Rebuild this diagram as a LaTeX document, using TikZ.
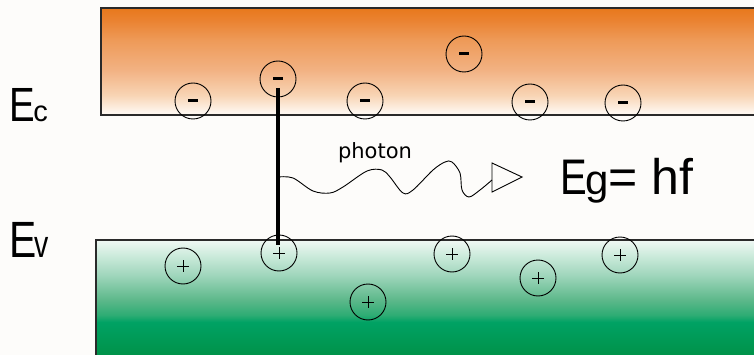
\documentclass[tikz,border=0pt]{standalone}
\usepackage{fontspec}
\setmainfont{Liberation Sans}
\newfontfamily\photonfont{DejaVu Sans}
\usetikzlibrary{calc}

% band shadings: the path's bounding box maps onto 25bp..75bp
\definecolor{ob0}{HTML}{FEF6EE}
\definecolor{ob1}{HTML}{F8D4B4}
\definecolor{ob2}{HTML}{F2B283}
\definecolor{ob3}{HTML}{EE9A58}
\definecolor{ob4}{HTML}{EA8230}
\definecolor{ob5}{HTML}{E8781C}
\pgfdeclareverticalshading{condband}{100bp}{%
  color(0bp)=(ob0); color(26.4bp)=(ob0); color(34.3bp)=(ob1); color(46bp)=(ob2);
  color(60bp)=(ob3); color(69.4bp)=(ob4); color(75bp)=(ob5); color(100bp)=(ob5)}
\definecolor{gb0}{HTML}{009249}
\definecolor{gb1}{HTML}{00A264}
\definecolor{gb2}{HTML}{2EAC74}
\definecolor{gb3}{HTML}{5CB88A}
\definecolor{gb4}{HTML}{A0D6BC}
\definecolor{gb5}{HTML}{CDEBDC}
\definecolor{gb6}{HTML}{F0F8F4}
\pgfdeclareverticalshading{valband}{100bp}{%
  color(0bp)=(gb0); color(25bp)=(gb0); color(39.3bp)=(gb1); color(42.4bp)=(gb2);
  color(48.9bp)=(gb3); color(59.8bp)=(gb4); color(68.5bp)=(gb5); color(75bp)=(gb6);
  color(100bp)=(gb6)}
\definecolor{paper}{HTML}{FDFCFA}
\definecolor{edge}{HTML}{2A2A2A}

\tikzset{
  bandedge/.style={draw=edge, line width=1.4pt},
  carrier/.style={circle, draw=black, line width=0.9pt, minimum size=36pt, inner sep=0pt},
  electron/.style={carrier},
  hole/.style={carrier, path picture={
      \draw[line width=0.9pt] ($(path picture bounding box.center)+(-6,0)$) -- ++(12,0);
      \draw[line width=0.9pt] ($(path picture bounding box.center)+(0,-6)$) -- ++(0,12);}},
  transition/.style={draw=black, line width=3.2pt},
  wave/.style={draw=black, line width=0.9pt},
  bigtext/.style={inner sep=0pt, anchor=base west, text=black}
}
\newcommand{\minusbar}{\rule{10pt}{3pt}}

\begin{document}
\begin{tikzpicture}[x=1pt, y=-1pt]
  \useasboundingbox (0,0) rectangle (754,355);
  \clip (0,0) rectangle (754,355);
  \fill[paper] (0,0) rectangle (754,355);

  % conduction band
  \shade[shading=condband] (101,8) rectangle (760,115);
  \draw[bandedge] (760,8) -- (101,8) -- (101,115) -- (760,115);

  % valence band
  \shade[shading=valband] (96,240) rectangle (760,355);
  \draw[bandedge] (760,240) -- (96,240) -- (96,360);

  % electrons
  \node[electron] (e1) at (193,101) {\minusbar};
  \node[electron] (e2) at (278,79)  {\minusbar};
  \node[electron] (e3) at (365,101) {\minusbar};
  \node[electron] (e4) at (464,54)  {\minusbar};
  \node[electron] (e5) at (530,102) {\minusbar};
  \node[electron] (e6) at (623,103) {\minusbar};

  % holes
  \node[hole] (h1) at (183,266) {};
  \node[hole] (h2) at (279,253) {};
  \node[hole] (h3) at (368,302) {};
  \node[hole] (h4) at (452,254) {};
  \node[hole] (h5) at (538,278) {};
  \node[hole] (h6) at (620,255) {};

  % recombination
  \draw[transition] ([yshift=-9pt]e2.center) -- ([yshift=8pt]e2.center |- h2.center);

  % emitted photon
  \coordinate (ph0) at (278,177);
  \draw[wave] plot[smooth, tension=0.55] coordinates {
    (278,177) (293,178) (313,191) (330,193) (343,187) (367,171) (382,170)
    (390,177) (403,193) (413,190) (433,170) (445,162) (452,162) (460,173)
    (462,190) (469,197) (480,190) (492,180)};
  \coordinate (tipA) at (492,163);
  \coordinate (tipB) at (492,192);
  \coordinate (tipC) at (522,177);
  \draw[wave, line join=miter] (tipA) -- (tipB) -- (tipC) -- cycle;
  \node[inner sep=0pt] (phl) at (375,153) {\photonfont\fontsize{21}{21}\selectfont photon};

  % labels
  \node[bigtext] (lc) at (9,122)
    {\scalebox{0.8}[1]{\fontsize{48}{48}\selectfont E}\kern-1.5pt{\fontsize{29}{29}\selectfont c}};
  \node[bigtext] (lv) at (9,257)
    {\scalebox{0.8}[1]{\fontsize{51}{51}\selectfont E}\kern-1.5pt\scalebox{0.75}[1]{\fontsize{38}{38}\selectfont v}};
  \node[bigtext] (lg) at (560,195)
    {\scalebox{0.8}[1]{\fontsize{50}{50}\selectfont E}\kern-1pt{\fontsize{42}{42}\selectfont g}\kern-1pt{\fontsize{50}{50}\selectfont= hf}};
\end{tikzpicture}
\end{document}
